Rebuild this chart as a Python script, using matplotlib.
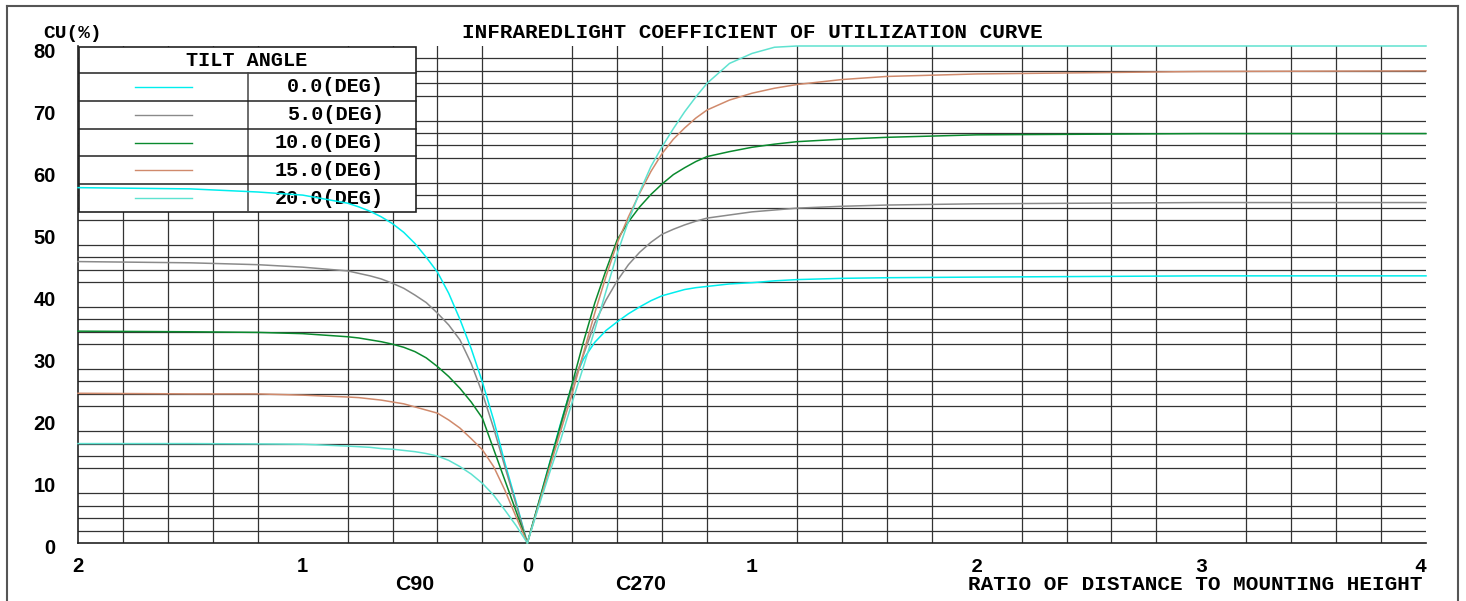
import matplotlib

matplotlib.use("Agg")
import matplotlib.pyplot as plt
import matplotlib.transforms as mtransforms
from matplotlib.patches import Rectangle
from matplotlib.lines import Line2D
import numpy as np

# --- data ------------------------------------------------------------------
TITLE = "INFRAREDLIGHT COEFFICIENT OF UTILIZATION CURVE"
tilt_labels = ["0.0(DEG)", "5.0(DEG)", "10.0(DEG)", "15.0(DEG)", "20.0(DEG)"]
colours = ["#00eeee", "#8a8a8a", "#0a8a2e", "#d08a6c", "#5fe2d0"]

# C90 side (drawn to the left, distance ratio 0..2)
d_c90 = [0, 0.05, 0.1, 0.15, 0.2, 0.25, 0.3, 0.35, 0.4, 0.45, 0.5, 0.55, 0.6,
         0.65, 0.7, 0.75, 0.8, 1.0, 1.2, 1.5, 2.0]
cu_c90_00 = [0, 6.6, 12.9, 19.8, 25.9, 31.3, 36.0, 40.2, 43.6, 46.0, 48.2, 50.0,
             51.4, 52.5, 53.4, 54.1, 54.7, 56.0, 56.5, 57.0, 57.2]
cu_c90_05 = [0, 6.2, 12.3, 18.5, 24.1, 28.9, 32.7, 35.1, 37.0, 38.7, 39.9, 41.0,
             41.8, 42.5, 43.0, 43.4, 43.8, 44.4, 44.8, 45.1, 45.3]
cu_c90_10 = [0, 5.1, 10.1, 15.1, 20.1, 22.7, 24.9, 26.8, 28.4, 29.8, 30.8, 31.5,
             32.0, 32.4, 32.7, 33.0, 33.2, 33.7, 33.9, 34.0, 34.1]
cu_c90_15 = [0, 4.2, 8.5, 12.3, 15.0, 16.8, 18.5, 19.8, 20.9, 21.4, 21.9, 22.4,
             22.7, 23.0, 23.2, 23.4, 23.5, 23.8, 24.0, 24.0, 24.1]
cu_c90_20 = [0, 2.8, 5.3, 7.7, 9.6, 11.1, 12.3, 13.3, 14.0, 14.4, 14.7, 14.9,
             15.1, 15.2, 15.4, 15.5, 15.6, 15.9, 15.95, 16.0, 16.0]

# C270 side (drawn to the right, distance ratio 0..4)
d_c270 = [0, 0.05, 0.1, 0.15, 0.2, 0.25, 0.3, 0.35, 0.4, 0.45, 0.5, 0.55, 0.6,
          0.65, 0.7, 0.75, 0.8, 0.9, 1.0, 1.1, 1.2, 1.4, 1.6, 2.0, 2.5, 3.0, 4.0]
cu_c270_00 = [0, 6.5, 13.0, 19.5, 25.5, 29.6, 32.3, 34.2, 35.6, 36.9, 38.0, 39.0,
              39.8, 40.3, 40.8, 41.1, 41.3, 41.7, 41.9, 42.2, 42.4, 42.6, 42.7,
              42.8, 42.9, 43.0, 43.0]
cu_c270_05 = [0, 6.3, 12.5, 18.9, 25.2, 30.3, 35.4, 39.1, 42.2, 44.8, 46.8, 48.4,
              49.7, 50.5, 51.2, 51.8, 52.3, 52.8, 53.3, 53.6, 53.9, 54.2, 54.4,
              54.6, 54.7, 54.8, 54.8]
cu_c270_10 = [0, 6.4, 12.9, 19.3, 25.7, 32.4, 38.6, 43.9, 48.8, 51.7, 54.1, 56.1,
              57.8, 59.3, 60.4, 61.4, 62.2, 63.0, 63.7, 64.2, 64.6, 65.0, 65.3,
              65.7, 65.8, 65.9, 65.9]
cu_c270_15 = [0, 6.1, 12.2, 18.2, 24.1, 30.6, 37.0, 42.9, 48.3, 52.5, 56.3, 59.8,
              62.7, 65.0, 66.8, 68.4, 69.7, 71.3, 72.4, 73.2, 73.8, 74.6, 75.1,
              75.5, 75.7, 75.9, 76.0]
cu_c270_20 = [0, 5.8, 11.4, 16.8, 22.7, 28.4, 34.3, 40.5, 46.6, 51.8, 56.5, 60.6,
              63.8, 66.7, 69.4, 71.8, 74.0, 77.2, 78.8, 79.8, 80.0, 80.0, 80.0,
              80.0, 80.0, 80.0, 80.0]

c90_series = [cu_c90_00, cu_c90_05, cu_c90_10, cu_c90_15, cu_c90_20]
c270_series = [cu_c270_00, cu_c270_05, cu_c270_10, cu_c270_15, cu_c270_20]

y_ticks = [0, 10, 20, 30, 40, 50, 60, 70, 80]
x_ticks = [-2, -1, 0, 1, 2, 3, 4]
x_tick_labels = ["2", "1", "0", "1", "2", "3", "4"]

# --- figure -----------------------------------------------------------------
W, H = 1466, 601
MONO = "Liberation Mono"
SANS = "Liberation Sans"


def fx(px):
    return px / W


def fy(py):
    return 1 - py / H


fig = plt.figure(figsize=(W / 100, H / 100), dpi=100)
ax = fig.add_axes([fx(78), fy(543), (1426 - 78) / W, (543 - 46) / H])

ax.set_xlim(-2, 4)
ax.set_ylim(0, 80)
ax.set_xticks(np.arange(-2, 4.001, 0.2), minor=True)
ax.set_yticks(np.arange(0, 80.001, 2), minor=True)
ax.grid(which="minor", color="#333333", lw=0.9)
ax.set_axisbelow(True)
for side in ["top", "right"]:
    ax.spines[side].set_visible(False)
for side in ["left", "bottom"]:
    ax.spines[side].set_color("#222222")
    ax.spines[side].set_linewidth(1.2)
ax.tick_params(which="both", length=0)

ax.set_yticks(y_ticks)
ax.set_yticklabels([str(v) for v in y_ticks], fontfamily=SANS,
                   fontweight="bold", fontsize=14.5)
ax.tick_params(axis="y", pad=16)
down = mtransforms.ScaledTranslation(0, -4 / 100, fig.dpi_scale_trans)
for lab in ax.get_yticklabels():
    lab.set_transform(lab.get_transform() + down)

ax.set_xticks(x_ticks)
ax.set_xticklabels(x_tick_labels, fontweight="bold", fontsize=14.5)
ax.tick_params(axis="x", pad=10)
for lab, v in zip(ax.get_xticklabels(), x_ticks):
    lab.set_fontfamily(SANS if v <= 0 else MONO)
    if v == 4:
        lab.set_horizontalalignment("right")

# curves
for vals, col in zip(c90_series, colours):
    ax.plot(-np.array(d_c90), vals, color=col, lw=1.1, zorder=4, clip_on=False)
for vals, col in zip(c270_series, colours):
    ax.plot(d_c270, vals, color=col, lw=1.1, zorder=4, clip_on=False)

# legend table (drawn under the curves, over the grid)
tf = fig.transFigure
tl, tr, tt, tb, th = 79, 416, 47, 212, 73
ax.add_patch(Rectangle((fx(tl), fy(tb)), fx(tr) - fx(tl), fy(tt) - fy(tb),
                       transform=tf, facecolor="white", edgecolor="#222222",
                       lw=1.2, zorder=2, clip_on=False))
row_h = (tb - th) / len(tilt_labels)
ax.add_line(Line2D([fx(tl), fx(tr)], [fy(th), fy(th)], transform=tf,
                   color="#222222", lw=1.1, zorder=2.5, clip_on=False))
ax.add_line(Line2D([fx(248), fx(248)], [fy(th), fy(tb)], transform=tf,
                   color="#444444", lw=1.1, zorder=2.5, clip_on=False))
ax.text(fx(247), fy((tt + th) / 2), "TILT ANGLE", transform=tf, ha="center",
        va="center", fontfamily=MONO, fontweight="bold", fontsize=14.5, zorder=3)
for i, (lab, col) in enumerate(zip(tilt_labels, colours)):
    top = th + i * row_h
    mid = top + row_h / 2
    if i > 0:
        ax.add_line(Line2D([fx(tl), fx(tr)], [fy(top), fy(top)], transform=tf,
                           color="#222222", lw=1.1, zorder=2.5, clip_on=False))
    ax.add_line(Line2D([fx(135), fx(192)], [fy(mid), fy(mid)], transform=tf,
                       color=col, lw=1.0, zorder=3, clip_on=False))
    ax.text(fx(384), fy(mid), lab, transform=tf, ha="right", va="center",
            fontfamily=MONO, fontweight="bold", fontsize=14.5, zorder=3)

# texts around the plot
fig.text(fx(752), fy(33), TITLE, ha="center", va="center",
         fontfamily=MONO, fontweight="bold", fontsize=15.1)
fig.text(fx(43), fy(33), "CU(%)", ha="left", va="center",
         fontfamily=MONO, fontweight="bold", fontsize=14)
fig.text(fx(415), fy(584), "C90", ha="center", va="center",
         fontfamily=SANS, fontweight="bold", fontsize=15.3)
fig.text(fx(641), fy(584), "C270", ha="center", va="center",
         fontfamily=SANS, fontweight="bold", fontsize=15.3)
fig.text(fx(1422), fy(584), "RATIO OF DISTANCE TO MOUNTING HEIGHT", ha="right",
         va="center", fontfamily=MONO, fontweight="bold", fontsize=15.1)

# outer frame
frame_kw = dict(transform=tf, color="#555555", lw=1.5)
fig.add_artist(Line2D([fx(7), fx(7)], [fy(6), 0], **frame_kw))
fig.add_artist(Line2D([fx(7), fx(1458)], [fy(6), fy(6)], **frame_kw))
fig.add_artist(Line2D([fx(1458), fx(1458)], [fy(6), 0], **frame_kw))

fig.savefig("out.png", dpi=100)
